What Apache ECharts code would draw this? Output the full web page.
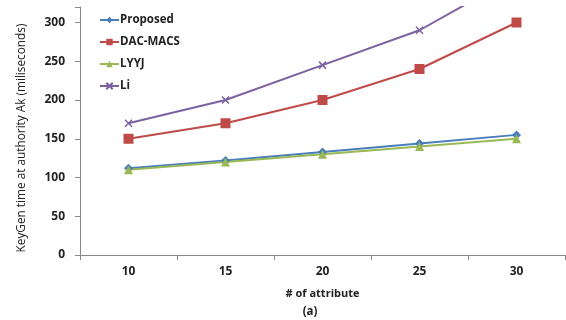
<!DOCTYPE html>
<html><head><meta charset="utf-8">
<script src="https://cdn.jsdelivr.net/npm/echarts@6/dist/echarts.min.js"></script>
<style>html,body{margin:0;padding:0;background:#fff}#c{width:566px;height:320px}</style>
</head><body><div id="c"></div>
<script>
const categories = ['10', '15', '20', '25', '30'];
const proposed = [112, 122, 133, 144, 155];
const dacMacs = [150, 170, 200, 240, 300];
const lyyj = [110, 120, 130, 140, 150];
const li = [170, 200, 245, 290, 360];
const yTicks = [0, 50, 100, 150, 200, 250, 300];

const xPath = 'path://M0,0L10,10M10,0L0,10';
const font = 'Open Sans';
const chart = echarts.init(document.getElementById('c'));
function s(name, data, color, symbol, size) {
  return {
    name, type: 'line', data, symbol, symbolSize: size, clip: true,
    lineStyle: { color, width: 2 },
    itemStyle: { color, borderColor: color, borderWidth: symbol === xPath ? 1.5 : 0 },
    emphasis: { disabled: true }
  };
}
chart.setOption({
  animation: false,
  textStyle: { fontFamily: font },
  grid: { left: 80, right: 1, top: 7, bottom: 65 },
  legend: {
    orient: 'vertical', left: 94, top: 9, itemGap: 10, itemWidth: 19, itemHeight: 8,
    textStyle: { fontFamily: font, fontWeight: 'bold', fontSize: 11.5, color: '#222', padding: [0, 0, 0, -4] },
    data: ['Proposed', 'DAC-MACS', 'LYYJ', 'Li']
  },
  xAxis: {
    type: 'category', data: categories, boundaryGap: true,
    axisLine: { lineStyle: { color: '#888' } },
    axisTick: { show: true, length: 5, lineStyle: { color: '#888' } },
    axisLabel: { color: '#222', fontWeight: 'bold', fontSize: 12, margin: 11 },
    name: '# of attribute', nameLocation: 'middle', nameGap: 33,
    nameTextStyle: { fontWeight: 'bold', fontSize: 11, color: '#222' }
  },
  yAxis: {
    type: 'value', min: 0, max: 320, interval: 50,
    axisLine: { show: true, lineStyle: { color: '#888' } },
    axisTick: { show: true, length: 5, lineStyle: { color: '#888' } },
    splitLine: { show: false },
    axisLabel: { color: '#222', fontWeight: 'bold', fontSize: 12, margin: 15,
      formatter: v => yTicks.includes(v) ? String(v) : '' }
  },
  graphic: [
    { type: 'text', x: 310, y: 312, style: { text: '(a)', font: 'bold 11.5px "Open Sans"', fill: '#222', align: 'center', verticalAlign: 'middle' } },
    { type: 'text', x: 22, y: 138, rotation: Math.PI / 2, style: { text: 'KeyGen time at authority Ak (miliseconds)', font: '500 11.8px "Open Sans"', fill: '#222', align: 'center', verticalAlign: 'middle' } }
  ],
  series: [
    s('Proposed', proposed, '#4A7EBB', 'diamond', 9),
    s('DAC-MACS', dacMacs, '#BE4B48', 'rect', 10),
    s('LYYJ', lyyj, '#98B954', 'triangle', 9),
    s('Li', li, '#7D60A0', xPath, 7)
  ]
});
</script></body></html>
